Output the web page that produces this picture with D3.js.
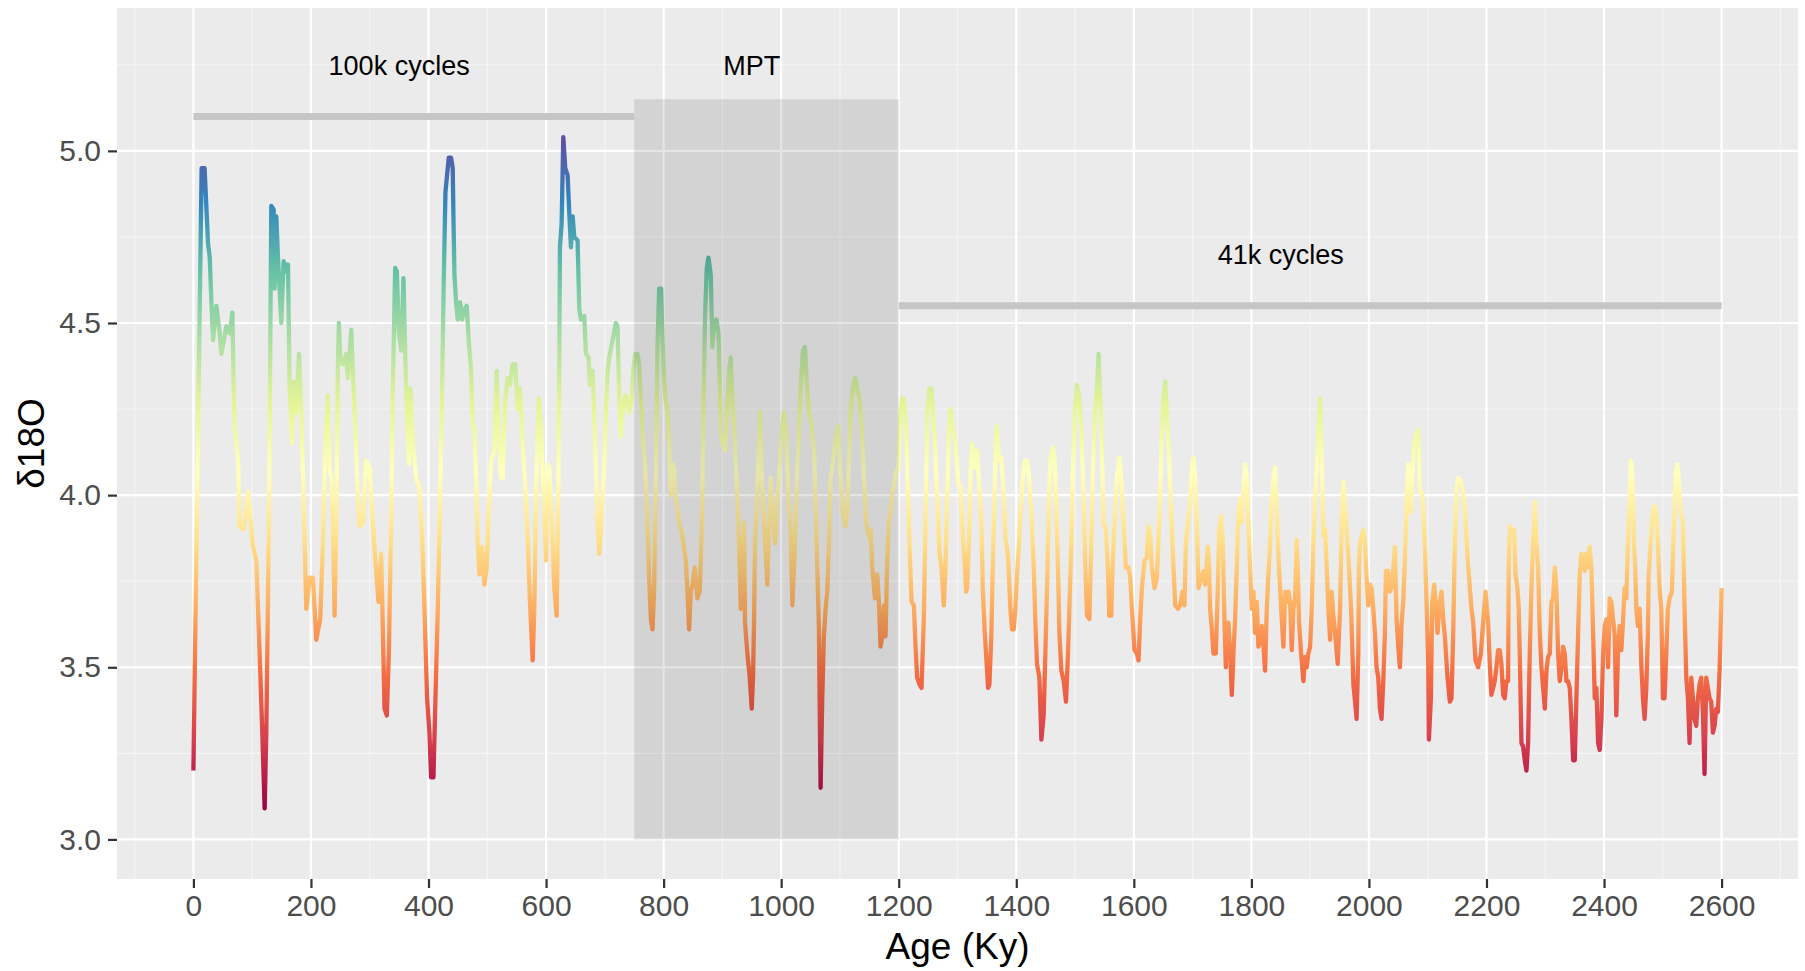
<!DOCTYPE html>
<html lang="en">
<head>
    <meta charset="UTF-8">
    <title>Benthic d18O stack</title>
    <script src="https://d3js.org/d3.v7.min.js"></script>
    <style>
        body { margin: 0; background: #ffffff; }
        svg text { font-family: "Liberation Sans", Arial, sans-serif; }
    </style>
</head>
<body>
    <svg id="chart"></svg>

    <script>
        // Age in thousand years (ky)
        const age = [
            0, 14, 19, 24.9, 27.8, 30.6, 33.4, 39.1, 44.7, 47.6,
            56.1, 61.7, 66.3, 68.5, 70.2, 75.9, 78.7, 85.5, 92.9, 101.4,
            107.1, 112.7, 117.2, 121.2, 124.0, 126.9, 129.7, 132.5, 136.5, 138.2,
            141.0, 143.9, 149.5, 153.5, 158.0, 160.9, 163.7, 168.2, 170.5, 175.0,
            179.6, 183.5, 187.5, 192.0, 197.7, 203.4, 209.0,
            215.8, 220.3, 224.9, 228.8, 231.7, 234.5, 237.3, 240.2, 243.0, 245.8,
            247.5, 249.8, 254.3, 260.0, 262.8, 268.5, 271.3, 275.8, 279.8, 282.6,
            288.3, 293.9, 299.6, 305.3, 310.9, 314.9, 319.4, 322.3, 325.1, 329.1,
            332.5, 336.4, 339.3, 343.3, 346.1, 349.5, 353.5, 357.4, 360.8, 363.1,
            366.5, 369.3, 373.3, 379.0, 384.6, 389.1, 393.1, 397.6, 401.6, 404.4,
            408.4, 411.8, 415.8, 419.7, 423.1, 426.0, 428.8,
            434.4, 438.4, 441.2, 442.4, 444.1, 446.9, 449.7, 453.7, 457.1, 461.1,
            465.0, 468.4, 472.4, 475.2, 478.1, 480.9, 483.7, 486.6, 491.1, 495.1,
            499.0, 502.4, 506.4, 512.0, 516.0, 519.4, 523.3, 526.2, 530.7, 534.6,
            538.6, 543.2, 547.7, 551.6, 555.6, 560.2, 564.7, 568.6, 572.6, 577.2,
            580.0, 582.8, 587.4, 591.3, 594.2, 597.0, 599.8, 602.7, 605.5, 610.0,
            614.0, 618.0, 620.2, 622.5, 623.6, 626.5, 629.3, 632.7, 636.6, 639.5,
            642.3, 645.2, 648.0,
            653.6, 656.5, 659.3, 665.0, 667.8, 672.3, 674.6, 679.1, 681.9, 684.8,
            687.6, 690.4, 693.3, 696.1, 699.0, 701.8, 704.6, 707.5, 713.1, 718.8,
            721.6, 724.5, 727.3, 730.1, 734.7, 738.6, 741.5, 746.0, 748.3, 751.6,
            755.6, 758.4, 761.3, 764.1, 768.6, 772.6, 775.4, 778.3, 781.1, 783.9,
            786.8, 789.6, 792.4, 795.8, 798.1, 800.9, 803.7, 806.6, 809.4, 812.2,
            815.1, 817.9, 820.7, 826.4, 832.1, 837.7, 840.5, 843.4, 846.2, 849.1,
            853.0, 857.5, 861.5, 864.9, 867.7, 870.5,
            873.4, 876.2, 880.2, 883.0, 885.9, 889.8, 893.2, 895.5, 897.2, 900.0,
            904.5, 906.8, 911.3, 914.2, 917.0, 919.8, 923.8, 927.2, 929.5, 931.2,
            934.0, 936.8, 938.5, 942.5, 946.5, 949.9, 952.1, 953.8, 955.5, 957.8,
            961.2, 964.0, 966.9, 970.8, 973.7, 976.5, 979.3, 982.2, 985.0, 989.5,
            993.5, 997.5, 1000.8, 1004.8, 1008.8, 1012.2, 1016.1, 1019.0, 1021.8, 1024.6,
            1027.5, 1030.3, 1033.1, 1037.1, 1040.5, 1043.3, 1047.3, 1051.8, 1055.8, 1058.6,
            1061.4, 1064.3, 1065.4, 1067.1, 1069.9, 1072.7, 1075.6, 1078.4, 1081.3, 1084.1,
            1086.9, 1091.5,
            1097.1, 1101.1, 1105.1, 1109.6, 1112.4, 1115.3, 1118.1, 1122.0, 1125.4, 1129.4,
            1133.4, 1136.8, 1140.7, 1144.7, 1149.3, 1152.1, 1154.9, 1159.5, 1163.4, 1166.3,
            1169.1, 1171.9, 1174.8, 1177.6, 1180.4, 1183.3, 1186.1, 1188.9, 1191.8, 1194.6,
            1199.2, 1203.1, 1205.9, 1208.8, 1212.7, 1216.1, 1218.4, 1221.8, 1225.8, 1228.6,
            1231.4, 1235.4, 1238.8, 1242.7, 1245.6, 1248.4, 1252.4, 1255.2, 1258.1, 1261.5,
            1265.4, 1269.4, 1272.8, 1276.7, 1279.6, 1282.4, 1285.2, 1288.1, 1292.0, 1296.6,
            1301.1, 1305.1, 1307.9, 1312.5, 1314.7,
            1316.3, 1319.2, 1322.0, 1324.8, 1329.4, 1333.3, 1337.3, 1340.7, 1343.0, 1346.4,
            1348.6, 1352.0, 1354.3, 1357.7, 1360.0, 1362.8, 1365.6, 1367.3, 1370.2, 1374.7,
            1378.7, 1381.5, 1386.0, 1390.0, 1392.8, 1395.6, 1398.5, 1401.3, 1404.2, 1407.0,
            1411.0, 1414.4, 1418.3, 1421.2, 1425.7, 1429.7, 1432.5, 1435.3, 1439.3, 1442.7,
            1446.6, 1449.5, 1452.3, 1455.2, 1458.0, 1462.0, 1465.4, 1467.6, 1471.0, 1473.3,
            1476.7, 1480.7, 1484.6, 1488.0, 1490.3, 1493.7, 1496.0, 1499.4, 1503.3, 1507.3,
            1510.7, 1514.7, 1517.5, 1520.4, 1524.3, 1527.7, 1530.0, 1533.4,
            1537.2, 1540.0, 1542.9, 1545.7, 1548.6, 1552.5, 1555.9, 1558.2, 1561.6, 1563.8,
            1567.2, 1571.2, 1575.2, 1578.6, 1582.5, 1586.5, 1591.0, 1593.9, 1596.7, 1601.2,
            1605.2, 1608.0, 1610.9, 1613.7, 1618.2, 1622.2, 1625.0, 1627.9, 1630.7, 1635.2,
            1639.2, 1642.0, 1644.9, 1647.7, 1650.5, 1653.4, 1656.2, 1660.2, 1663.6, 1667.5,
            1670.4, 1674.9, 1678.8, 1682.8, 1686.2, 1688.5, 1691.9, 1695.8, 1698.7, 1701.5,
            1704.3, 1707.2, 1710.0, 1714.5, 1718.5, 1721.3, 1725.9, 1728.1, 1729.8, 1732.7,
            1735.5, 1739.5, 1742.9, 1745.1, 1748.6, 1751.4, 1754.2, 1756.5,
            1758.2, 1761.0, 1763.8, 1766.7, 1769.5, 1772.3, 1775.2, 1778.0, 1780.8, 1783.7,
            1786.5, 1789.3, 1792.2, 1795.0, 1797.8, 1800.7, 1803.5, 1806.3, 1809.2, 1812.0,
            1814.8, 1817.7, 1820.5, 1823.3, 1826.2, 1829.0, 1831.9, 1834.7, 1837.5, 1840.4,
            1843.2, 1846.0, 1848.9, 1851.7, 1854.5, 1857.4, 1860.2, 1863.0, 1865.9, 1868.7,
            1871.5, 1874.4, 1877.2, 1878.9, 1881.2, 1884.6, 1888.5, 1891.4, 1894.2, 1897.0,
            1899.9, 1902.7, 1905.5, 1908.4, 1911.2, 1914.0, 1916.9, 1919.7, 1922.5, 1925.4,
            1928.2, 1931.0, 1933.9, 1936.7, 1939.5, 1942.4, 1946.9, 1950.9, 1953.7, 1956.5,
            1959.4, 1962.2, 1965.1, 1969.6, 1973.6, 1977.5,
            1979.0, 1981.9, 1983.0, 1984.7, 1987.5, 1990.4, 1993.2, 1996.0, 1998.9, 2001.7,
            2004.5, 2007.4, 2010.2, 2013.0, 2015.9, 2018.7, 2021.5, 2024.4, 2027.2, 2028.9,
            2032.9, 2035.7, 2038.5, 2041.4, 2044.2, 2047.0, 2049.9, 2052.7, 2055.6, 2058.4,
            2061.2, 2064.1, 2066.9, 2071.4, 2073.7, 2077.1, 2081.0, 2083.9, 2086.7, 2089.5,
            2092.4, 2095.2, 2098.0, 2100.9, 2102.0, 2105.4, 2107.7, 2111.1, 2113.3, 2116.7,
            2120.7, 2123.5, 2126.4, 2129.2, 2133.7, 2137.7, 2140.5, 2143.4, 2146.2, 2149.0,
            2151.9, 2156.4, 2160.4, 2163.2, 2167.7, 2171.7, 2174.5, 2177.4, 2181.3, 2185.8,
            2190.4, 2194.3, 2198.3,
            2202.8, 2205.6, 2208.4, 2211.3, 2214.1, 2216.9, 2219.8, 2222.6, 2225.4, 2228.3,
            2231.1, 2233.9, 2236.8, 2237.9, 2239.6, 2242.5, 2247.0, 2249.3, 2252.7, 2254.9,
            2256.6, 2259.5, 2262.3, 2265.1, 2268.0, 2270.8, 2273.6, 2276.5, 2279.3, 2282.1,
            2285.0, 2287.8, 2290.7, 2293.5, 2296.3, 2299.2, 2302.0, 2304.8, 2307.7, 2310.5,
            2313.3, 2316.2, 2319.0, 2321.8, 2324.7, 2327.5, 2330.3, 2333.2, 2336.0, 2338.8,
            2341.7, 2344.5, 2347.4, 2350.2, 2353.0, 2355.9, 2358.7, 2361.5, 2364.4, 2367.2,
            2370.0, 2372.9, 2375.7, 2378.5, 2381.4, 2384.2, 2387.0, 2389.9, 2392.7, 2395.6,
            2398.4, 2401.2, 2404.1, 2406.9, 2409.7, 2412.6, 2415.4, 2418.2,
            2420.9, 2423.7, 2426.5, 2429.4, 2432.2, 2435.0, 2437.9, 2440.7, 2443.5, 2445.2,
            2447.5, 2449.2, 2450.9, 2453.1, 2454.9, 2457.7, 2460.5, 2463.4, 2466.2, 2469.0,
            2471.9, 2474.7, 2475.8, 2479.2, 2483.2, 2486.0, 2488.9, 2491.7, 2494.5, 2497.4,
            2500.2, 2503.0, 2505.9, 2508.7, 2511.5, 2515.5, 2518.9, 2521.7, 2524.6, 2526.8,
            2530.2, 2534.2, 2537.0, 2539.9, 2542.7, 2545.5, 2548.4, 2551.2, 2554.0, 2556.9,
            2559.7, 2562.5, 2565.4, 2568.2, 2571.0, 2573.9, 2576.7, 2579.6, 2582.4, 2585.2,
            2588.1, 2590.9, 2593.7, 2596.6, 2600
        ];

        // benthic d18O (per mil), same order as age
        const d18O = [
            3.20, 4.95, 4.95, 4.73, 4.69, 4.56, 4.45, 4.55, 4.47, 4.41,
            4.49, 4.47, 4.53, 4.32, 4.20, 4.10, 3.91, 3.90, 4.01, 3.85,
            3.81, 3.54, 3.31, 3.09, 3.31, 3.70, 4.18, 4.84, 4.83, 4.60,
            4.81, 4.69, 4.50, 4.68, 4.65, 4.67, 4.31, 4.15, 4.33, 4.24,
            4.41, 4.24, 3.99, 3.67, 3.76, 3.76, 3.58,
            3.64, 3.86, 4.18, 4.29, 4.08, 4.05, 3.92, 3.65, 3.92, 4.37,
            4.50, 4.40, 4.38, 4.41, 4.34, 4.48, 4.36, 4.18, 3.99, 3.91,
            3.92, 4.10, 4.08, 3.92, 3.78, 3.69, 3.83, 3.61, 3.38, 3.36,
            3.54, 3.92, 4.31, 4.66, 4.65, 4.47, 4.42, 4.63, 4.38, 4.24,
            4.09, 4.31, 4.15, 4.05, 4.02, 3.88, 3.67, 3.41, 3.31, 3.18,
            3.18, 3.41, 3.67, 3.99, 4.31, 4.63, 4.88,
            4.98, 4.98, 4.95, 4.81, 4.64, 4.56, 4.51, 4.56, 4.51, 4.54,
            4.55, 4.45, 4.36, 4.20, 4.19, 4.05, 3.86, 3.77, 3.85, 3.74,
            3.79, 3.95, 4.10, 4.13, 4.36, 4.18, 4.05, 4.05, 4.28, 4.34,
            4.32, 4.38, 4.38, 4.25, 4.31, 4.15, 4.02, 3.88, 3.69, 3.52,
            3.67, 3.99, 4.28, 4.20, 4.05, 3.96, 3.81, 4.09, 4.08, 3.92,
            3.73, 3.65, 3.92, 4.37, 4.72, 4.79, 5.04, 4.95, 4.93, 4.82,
            4.72, 4.81, 4.75,
            4.74, 4.54, 4.51, 4.52, 4.41, 4.40, 4.32, 4.36, 4.24, 4.08,
            3.92, 3.83, 3.90, 4.00, 4.09, 4.24, 4.36, 4.40, 4.45, 4.50,
            4.49, 4.28, 4.17, 4.24, 4.29, 4.28, 4.24, 4.28, 4.36, 4.41,
            4.41, 4.38, 4.28, 4.18, 4.08, 3.92, 3.76, 3.64, 3.61, 3.73,
            4.05, 4.43, 4.60, 4.60, 4.45, 4.33, 4.27, 4.24, 4.15, 4.00,
            4.09, 4.08, 3.99, 3.92, 3.88, 3.81, 3.72, 3.61, 3.72, 3.74,
            3.79, 3.70, 3.72, 3.91, 4.24, 4.52,
            4.66, 4.69, 4.64, 4.43, 4.50, 4.51, 4.47, 4.33, 4.18, 4.15,
            4.13, 4.19, 4.36, 4.40, 4.28, 4.20, 4.06, 3.93, 3.79, 3.67,
            3.79, 3.92, 3.63, 3.54, 3.47, 3.38, 3.47, 3.63, 3.86, 3.95,
            4.11, 4.24, 4.05, 3.92, 3.83, 3.74, 3.92, 4.05, 3.96, 3.86,
            3.99, 4.08, 4.18, 4.24, 4.18, 3.99, 3.90, 3.68, 3.79, 3.92,
            4.09, 4.18, 4.31, 4.42, 4.43, 4.33, 4.24, 4.20, 4.13, 3.99,
            3.79, 3.61, 3.41, 3.15, 3.41, 3.59, 3.67, 3.72, 3.86, 4.05,
            4.08, 4.15,
            4.20, 4.05, 3.95, 3.91, 3.95, 4.10, 4.24, 4.31, 4.34, 4.31,
            4.28, 4.20, 4.05, 3.92, 3.88, 3.90, 3.79, 3.70, 3.77, 3.69,
            3.56, 3.59, 3.68, 3.59, 3.81, 3.92, 3.95, 4.01, 4.02, 4.06,
            4.08, 4.24, 4.28, 4.28, 4.18, 3.99, 3.85, 3.69, 3.68, 3.56,
            3.47, 3.45, 3.44, 3.64, 3.92, 4.24, 4.31, 4.31, 4.25, 4.15,
            3.99, 3.83, 3.79, 3.68, 3.79, 3.99, 4.18, 4.25, 4.20, 4.15,
            4.04, 4.02, 3.92, 3.79, 3.72,
            3.73, 3.85, 4.05, 4.15, 4.08, 4.13, 4.02, 3.92, 3.73, 3.60,
            3.54, 3.44, 3.45, 3.60, 3.79, 3.99, 4.18, 4.20, 4.10, 4.11,
            3.99, 3.88, 3.82, 3.67, 3.61, 3.61, 3.67, 3.77, 3.85, 3.95,
            4.05, 4.10, 4.10, 4.06, 3.95, 3.79, 3.63, 3.51, 3.47, 3.29,
            3.36, 3.54, 3.73, 3.95, 4.10, 4.14, 4.10, 3.99, 3.79, 3.60,
            3.49, 3.46, 3.40, 3.54, 3.67, 3.86, 4.05, 4.24, 4.32, 4.28,
            4.18, 3.99, 3.79, 3.65, 3.64, 3.86, 4.05, 4.24,
            4.31, 4.41, 4.28, 4.11, 3.92, 3.90, 3.79, 3.65, 3.65, 3.79,
            3.92, 4.05, 4.11, 4.05, 3.92, 3.79, 3.79, 3.76, 3.67, 3.55,
            3.54, 3.52, 3.64, 3.73, 3.81, 3.82, 3.91, 3.88, 3.79, 3.73,
            3.76, 3.87, 4.01, 4.18, 4.28, 4.33, 4.24, 4.10, 3.95, 3.79,
            3.68, 3.67, 3.68, 3.72, 3.68, 3.86, 3.92, 3.97, 4.08, 4.11,
            4.05, 3.92, 3.73, 3.76, 3.78, 3.74, 3.85, 3.79, 3.67, 3.61,
            3.54, 3.54, 3.73, 3.90, 3.94, 3.86, 3.64, 3.50,
            3.60, 3.63, 3.54, 3.42, 3.54, 3.64, 3.79, 3.95, 3.99, 3.92,
            4.02, 4.09, 4.05, 3.92, 3.79, 3.67, 3.72, 3.60, 3.69, 3.56,
            3.58, 3.62, 3.56, 3.49, 3.67, 3.77, 3.86, 3.99, 4.05, 4.08,
            3.95, 3.82, 3.73, 3.64, 3.56, 3.72, 3.69, 3.72, 3.69, 3.55,
            3.67, 3.70, 3.87, 3.79, 3.63, 3.54, 3.46, 3.53, 3.50, 3.54,
            3.56, 3.67, 3.86, 3.99, 4.08, 4.19, 4.28, 4.10, 3.88, 3.90,
            3.79, 3.67, 3.58, 3.72, 3.65, 3.60, 3.51, 3.67, 3.92, 4.04,
            3.96, 3.90, 3.82, 3.67, 3.45, 3.38,
            3.35, 3.54, 3.79, 3.86, 3.88, 3.90, 3.86, 3.76, 3.68, 3.74,
            3.73, 3.67, 3.60, 3.50, 3.47, 3.38, 3.35, 3.46, 3.60, 3.78,
            3.78, 3.72, 3.73, 3.78, 3.85, 3.64, 3.56, 3.50, 3.63, 3.69,
            3.81, 3.99, 4.09, 3.95, 4.05, 4.15, 4.18, 4.19, 4.01, 4.01,
            3.96, 3.85, 3.69, 3.51, 3.29, 3.41, 3.69, 3.74, 3.69, 3.60,
            3.69, 3.72, 3.64, 3.59, 3.47, 3.40, 3.41, 3.60, 3.86, 4.02,
            4.05, 4.04, 4.01, 3.96, 3.82, 3.73, 3.67, 3.63, 3.52, 3.50,
            3.54, 3.63, 3.72,
            3.63, 3.51, 3.42, 3.44, 3.46, 3.50, 3.55, 3.55, 3.51, 3.42,
            3.41, 3.46, 3.46, 3.79, 3.91, 3.90, 3.90, 3.77, 3.73, 3.67,
            3.54, 3.28, 3.27, 3.23, 3.20, 3.28, 3.54, 3.73, 3.86, 3.98,
            3.86, 3.79, 3.60, 3.50, 3.44, 3.38, 3.49, 3.53, 3.54, 3.69,
            3.70, 3.79, 3.72, 3.54, 3.46, 3.50, 3.56, 3.54, 3.46, 3.46,
            3.44, 3.35, 3.23, 3.23, 3.41, 3.60, 3.77, 3.83, 3.82, 3.78,
            3.83, 3.79, 3.85, 3.79, 3.60, 3.41, 3.44, 3.28, 3.26, 3.35,
            3.54, 3.62, 3.64, 3.50, 3.70, 3.69, 3.64, 3.59,
            3.36, 3.54, 3.62, 3.55, 3.63, 3.73, 3.70, 3.86, 3.99, 4.10,
            4.08, 3.99, 3.86, 3.79, 3.67, 3.62, 3.67, 3.51, 3.41, 3.35,
            3.44, 3.60, 3.76, 3.86, 3.95, 3.97, 3.95, 3.86, 3.73, 3.67,
            3.41, 3.41, 3.54, 3.67, 3.70, 3.72, 3.92, 4.06, 4.09, 4.05,
            3.95, 3.92, 3.67, 3.47, 3.41, 3.28, 3.47, 3.41, 3.35, 3.33,
            3.41, 3.45, 3.47, 3.37, 3.19, 3.47, 3.44, 3.41, 3.40, 3.31,
            3.33, 3.38, 3.37, 3.49, 3.73
        ];

        const xTicks = [0, 200, 400, 600, 800, 1000, 1200, 1400, 1600, 1800, 2000, 2200, 2400, 2600];
        const yTicks = [3.0, 3.5, 4.0, 4.5, 5.0];

        // Spectral palette, low values red -> high values blue
        const spectral = ["#9e0142", "#d53e4f", "#f46d43", "#fdae61", "#fee08b", "#ffffbf",
                          "#e6f598", "#abdda4", "#66c2a5", "#3288bd", "#5e4fa2"];

        // regimes: label, start, end, level of the bar, label position
        const regimeLabels = ["100k cycles", "41k cycles"];
        const regimeFrom = [0, 1200];
        const regimeTo = [750, 2600];
        const regimeLevel = [5.1, 4.55];
        const regimeLabelAge = [350, 1850];
        const regimeLabelLevel = [5.25, 4.7];

        // mid-Pleistocene transition box
        const mptLabel = "MPT";
        const mptFrom = 750, mptTo = 1200, mptLow = 3.0, mptHigh = 5.15;
        const mptLabelAge = 950, mptLabelLevel = 5.25;

        if (age.length !== d18O.length) console.warn("length mismatch", age.length, d18O.length);
        const data = d3.zip(age, d18O).map(([a, v]) => ({ age: a, value: v }));

        const width = 1805, height = 971;
        const panel = { left: 117, right: 1798, top: 8, bottom: 879 };

        const svg = d3.select("#chart")
            .attr("width", width)
            .attr("height", height);

        const x = d3.scaleLinear().domain([-130, 2730]).range([panel.left, panel.right]);
        const y = d3.scaleLinear().domain([2.885, 5.415]).range([panel.bottom, panel.top]);

        // grey panel
        svg.append("rect")
            .attr("x", panel.left).attr("y", panel.top)
            .attr("width", panel.right - panel.left)
            .attr("height", panel.bottom - panel.top)
            .attr("fill", "#ebebeb");

        // minor grid
        const xMinor = d3.range(-100, 2701, 200);
        const yMinor = [3.25, 3.75, 4.25, 4.75, 5.25];
        const grid = svg.append("g");
        grid.selectAll(".vminor").data(xMinor).join("line")
            .attr("x1", d => x(d)).attr("x2", d => x(d))
            .attr("y1", panel.top).attr("y2", panel.bottom)
            .attr("stroke", "#f5f5f5").attr("stroke-width", 1.1);
        grid.selectAll(".hminor").data(yMinor).join("line")
            .attr("x1", panel.left).attr("x2", panel.right)
            .attr("y1", d => y(d)).attr("y2", d => y(d))
            .attr("stroke", "#f5f5f5").attr("stroke-width", 1.1);
        // major grid
        grid.selectAll(".vmajor").data(xTicks).join("line")
            .attr("x1", d => x(d)).attr("x2", d => x(d))
            .attr("y1", panel.top).attr("y2", panel.bottom)
            .attr("stroke", "#ffffff").attr("stroke-width", 2.2);
        grid.selectAll(".hmajor").data(yTicks).join("line")
            .attr("x1", panel.left).attr("x2", panel.right)
            .attr("y1", d => y(d)).attr("y2", d => y(d))
            .attr("stroke", "#ffffff").attr("stroke-width", 2.2);

        // colour gradient along the value axis
        const vMin = d3.min(d18O), vMax = d3.max(d18O);
        const grad = svg.append("defs").append("linearGradient")
            .attr("id", "spectral")
            .attr("gradientUnits", "userSpaceOnUse")
            .attr("x1", 0).attr("x2", 0)
            .attr("y1", y(vMin)).attr("y2", y(vMax));
        grad.selectAll("stop").data(spectral).join("stop")
            .attr("offset", (d, i) => i / (spectral.length - 1))
            .attr("stop-color", d => d);

        const line = d3.line()
            .x(d => x(d.age))
            .y(d => y(d.value));

        svg.append("path")
            .datum(data)
            .attr("d", line)
            .attr("fill", "none")
            .attr("stroke", "url(#spectral)")
            .attr("stroke-width", 4.3)
            .attr("stroke-linejoin", "round");

        // MPT shading
        svg.append("rect")
            .attr("x", x(mptFrom)).attr("y", y(mptHigh))
            .attr("width", x(mptTo) - x(mptFrom))
            .attr("height", y(mptLow) - y(mptHigh))
            .attr("fill", "#000000").attr("fill-opacity", 0.1);

        // regime bars
        svg.selectAll(".regime").data(regimeLabels).join("line")
            .attr("x1", (d, i) => x(regimeFrom[i]))
            .attr("x2", (d, i) => x(regimeTo[i]))
            .attr("y1", (d, i) => y(regimeLevel[i]))
            .attr("y2", (d, i) => y(regimeLevel[i]))
            .attr("stroke", "#c6c6c6").attr("stroke-width", 7);

        svg.selectAll(".regimeLabel").data(regimeLabels).join("text")
            .attr("x", (d, i) => x(regimeLabelAge[i]))
            .attr("y", (d, i) => y(regimeLabelLevel[i]))
            .attr("dy", "0.36em")
            .attr("text-anchor", "middle")
            .attr("font-size", 27)
            .attr("fill", "#000")
            .text(d => d);

        svg.append("text")
            .attr("x", x(mptLabelAge))
            .attr("y", y(mptLabelLevel))
            .attr("dy", "0.36em")
            .attr("text-anchor", "middle")
            .attr("font-size", 27)
            .attr("fill", "#000")
            .text(mptLabel);

        // axes
        const xAxis = svg.append("g")
            .attr("transform", `translate(0,${panel.bottom})`)
            .call(d3.axisBottom(x).tickValues(xTicks).tickSize(9).tickPadding(7).tickFormat(d3.format("d")));
        const yAxis = svg.append("g")
            .attr("transform", `translate(${panel.left},0)`)
            .call(d3.axisLeft(y).tickValues(yTicks).tickSize(9).tickPadding(7).tickFormat(d3.format(".1f")));

        [xAxis, yAxis].forEach(ax => {
            ax.select(".domain").remove();
            ax.selectAll(".tick line").attr("stroke", "#333333").attr("stroke-width", 2.2);
            ax.selectAll(".tick text")
                .attr("fill", "#4d4d4d")
                .attr("font-size", 30)
                .attr("font-family", "Liberation Sans, Arial, sans-serif");
        });

        svg.append("text")
            .attr("x", (panel.left + panel.right) / 2)
            .attr("y", 959)
            .attr("text-anchor", "middle")
            .attr("font-size", 37)
            .attr("fill", "#000")
            .text("Age (Ky)");

        svg.append("text")
            .attr("transform", `translate(44,${(panel.top + panel.bottom) / 2}) rotate(-90)`)
            .attr("text-anchor", "middle")
            .attr("font-size", 37)
            .attr("fill", "#000")
            .text("δ18O");
    </script>
</body>
</html>
